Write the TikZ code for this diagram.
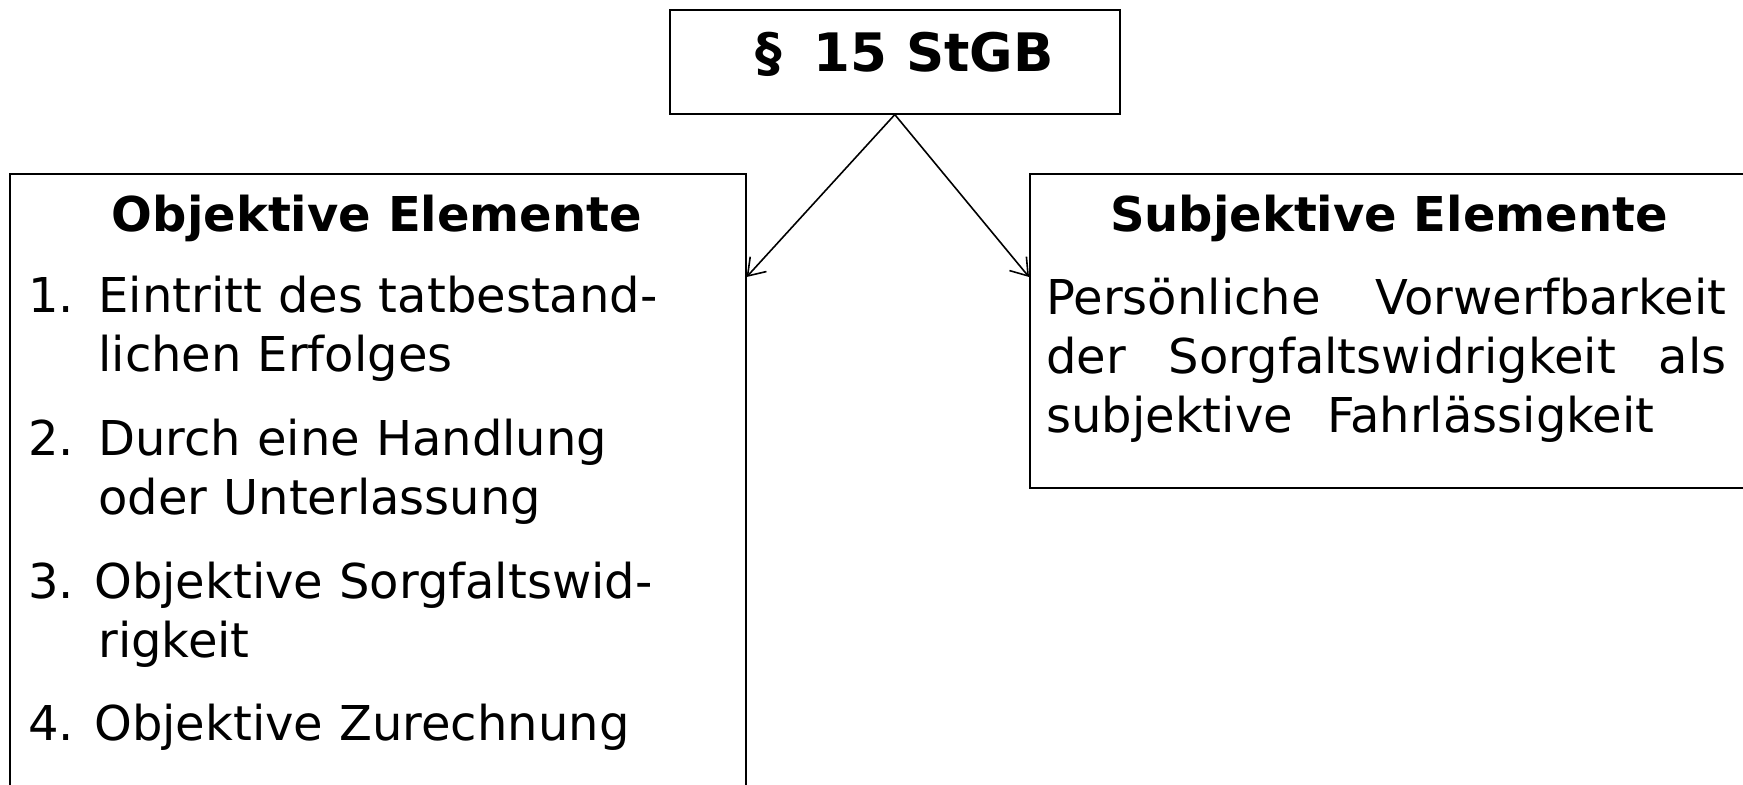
\documentclass[tikz,border=0pt]{standalone}
\usepackage{fontspec}
\setmainfont{DejaVu Sans}
\usetikzlibrary{arrows.meta}
\tikzstyle{frame}=[draw, line width=0.8pt, rectangle, inner sep=0pt, anchor=north west]
\tikzstyle{pfeil}=[-{Straight Barb[length=8pt,width=11pt]}, line width=0.8pt]
\tikzstyle{kopf}=[font=\fontsize{24}{29.5}\selectfont\bfseries, inner sep=0pt, anchor=base]
\tikzstyle{punkt}=[font=\fontsize{24}{29.5}\selectfont, inner sep=0pt, anchor=base west, text width=350pt, align=left]

\begin{document}
\begin{tikzpicture}[x=0.5pt, y=-0.5pt]
    % Bildausschnitt
    \clip (0,0) rectangle (1743,785);

    % Kasten oben
    \node[frame, minimum width=225pt, minimum height=52pt] (stgb) at (669,9) {};
    \node[font=\fontsize{26.5}{30}\selectfont\bfseries, inner sep=0pt, anchor=base west] (titel) at (755,72) {§\hspace{16pt}15 StGB};

    % linker Kasten
    \node[frame, minimum width=368pt, minimum height=330pt] (obj) at (9,173) {};
    \node[kopf] (objkopf) at (377,232) {Objektive Elemente};
    \node[punkt] (p1) at (28,313) {\makebox[35pt][l]{1.}Eintritt des tatbestand-\\\hspace*{35pt}lichen Erfolges};
    \node[punkt] (p2) at (28,455) {\makebox[35pt][l]{2.}Durch eine Handlung\\\hspace*{35pt}oder Unterlassung};
    \node[punkt] (p3) at (28,598) {\makebox[33pt][l]{3.}Objektive Sorgfaltswid-\\\hspace*{35pt}rigkeit};
    \node[punkt] (p4) at (28,740) {\makebox[33pt][l]{4.}Objektive Zurechnung};

    % rechter Kasten
    \node[frame, minimum width=360pt, minimum height=157pt] (subj) at (1029,173) {};
    \node[kopf] (subjkopf) at (1389,232) {Subjektive Elemente};
    \node[punkt, text width=340pt] (subjtext) at (1046,315) {Persönliche\hfill Vorwerfbarkeit\\der\hfill Sorgfaltswidrigkeit\hfill als\\subjektive\hspace{17pt}Fahrlässigkeit};

    % Pfeile
    \draw[pfeil] (stgb.south) -- ([yshift=-52pt]obj.north east);
    \draw[pfeil] (stgb.south) -- ([yshift=-52pt]subj.north west);
\end{tikzpicture}
\end{document}
